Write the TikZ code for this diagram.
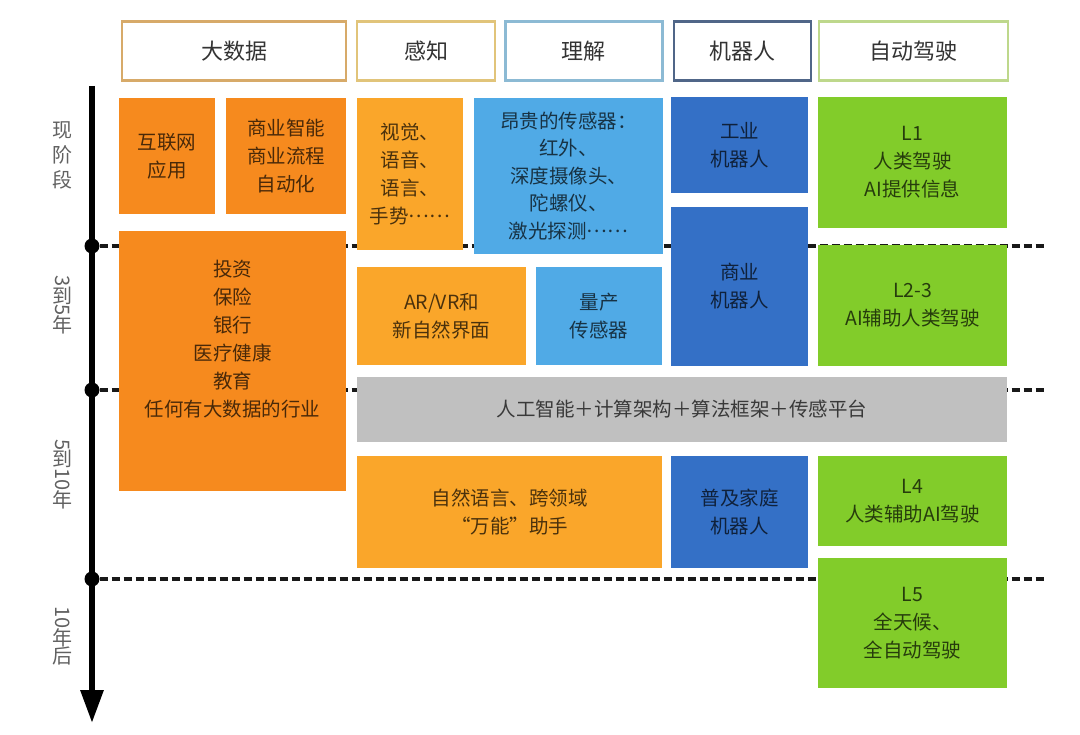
\documentclass[tikz,border=0pt]{standalone}
\usepackage{fontspec}
\setmainfont{Noto Sans CJK SC}
\usepackage{tikz}
\usetikzlibrary{arrows.meta, positioning}
\usepackage{xcolor}
\usepackage{graphicx}
\definecolor{dataOrange}{RGB}{246,138,30}
\definecolor{senseOrange}{RGB}{250,166,42}
\definecolor{skyBlue}{RGB}{80,170,230}
\definecolor{robotBlue}{RGB}{52,112,198}
\definecolor{driveGreen}{RGB}{130,204,42}
\definecolor{platformGray}{RGB}{192,192,192}
\definecolor{tanLine}{RGB}{215,170,105}
\definecolor{sandLine}{RGB}{225,196,122}
\definecolor{paleBlueLine}{RGB}{140,186,212}
\definecolor{slateLine}{RGB}{80,102,136}
\definecolor{oliveLine}{RGB}{190,216,140}
\newcommand{\vup}[1]{\raisebox{-0.15em}{\rotatebox{90}{#1}}}
\newcommand{\middots}{\raisebox{0.3em}{……}}

\begin{document}
\begin{tikzpicture}[
    x=1pt, y=-1pt,
    head/.style={rectangle, draw, line width=2.2pt, fill=white, minimum height=59pt, font=\fontsize{22}{26}\selectfont, text=black!80},
    block/.style={rectangle, anchor=north west, inner sep=0pt, outer sep=0pt, align=center, font=\fontsize{19.5}{28}\selectfont, text=black, text opacity=0.7},
    period/.style={font=\fontsize{20}{25}\selectfont, text=black!62, align=center},
    axis/.style={line width=6pt, -{Triangle[length=33pt, width=22pt]}},
    dot/.style={circle, fill=black, minimum size=15pt, inner sep=0pt},
    dashline/.style={line width=4pt, dash pattern=on 8pt off 4pt, black!90}
]
\useasboundingbox (0,0) rectangle (1080,735);

% Timeline
\coordinate (axistop) at (92,86);
\coordinate (axisend) at (92,723);
\draw[axis] (axistop) -- (axisend);
\node[dot] (now) at (92,246) {};
\node[dot] (mid) at (92,390) {};
\node[dot] (far) at (92,579) {};
\coordinate (nowend) at (1045,246);
\coordinate (midend) at (1045,390);
\coordinate (farend) at (1045,579);
\draw[dashline] (now) -- (nowend);
\draw[dashline] (mid) -- (midend);
\draw[dashline] (far) -- (farend);

\node[period] (pnow) at (62,155) {现\\阶\\段};
\node[period] (pnear) at (62,305) {\rotatebox{-90}{3\vup{到}5\vup{年}}};
\node[period] (pmid) at (62,474) {\rotatebox{-90}{5\vup{到}10\vup{年}}};
\node[period] (pfar) at (62,636) {\rotatebox{-90}{10\vup{年}\vup{后}}};

% Headers
\node[head, draw=tanLine, minimum width=224pt] (hdata) at (234,51) {大数据};
\node[head, draw=sandLine, minimum width=138pt, right=9pt of hdata] (hsense) {感知};
\node[head, draw=paleBlueLine, minimum width=157pt, right=8pt of hsense] (hgrasp) {理解};
\node[head, draw=slateLine, minimum width=137pt, right=9pt of hgrasp] (hrobot) {机器人};
\node[head, draw=oliveLine, minimum width=189pt, right=6pt of hrobot] (hdrive) {自动驾驶};

% Big data
\node[block, fill=dataOrange, minimum width=96pt, minimum height=116pt] (internet) at (119,98) {互联网\\应用};
\node[block, fill=dataOrange, minimum width=120pt, minimum height=116pt] (bizintel) at (226,98) {商业智能\\商业流程\\自动化};
\node[block, fill=dataOrange, minimum width=227pt, minimum height=260pt] (invest) at (119,231) {投资\\保险\\银行\\医疗健康\\教育\\任何有大数据的行业\\[18pt]\mbox{}};

% Perception and understanding
\node[block, fill=senseOrange, minimum width=106pt, minimum height=152pt] (senses) at (357,98) {视觉、\\语音、\\语言、\\手势\middots};
\node[block, fill=skyBlue, minimum width=189pt, minimum height=156pt, font=\fontsize{19.5}{27.5}\selectfont] (sensors) at (474,98) {昂贵的传感器：\\红外、\\深度摄像头、\\陀螺仪、\\激光探测\middots};
\node[block, fill=senseOrange, minimum width=169pt, minimum height=98pt] (arvr) at (357,267) {AR/VR和\\新自然界面};
\node[block, fill=skyBlue, minimum width=126pt, minimum height=98pt] (massprod) at (536,267) {量产\\传感器};
\node[block, fill=senseOrange, minimum width=305pt, minimum height=112pt] (assistant) at (357,456) {自然语言、跨领域\\“万能”助手};

% Robots
\node[block, fill=robotBlue, minimum width=137pt, minimum height=96pt] (industrial) at (671,97) {工业\\机器人};
\node[block, fill=robotBlue, minimum width=137pt, minimum height=159pt] (commercial) at (671,207) {商业\\机器人};
\node[block, fill=robotBlue, minimum width=137pt, minimum height=112pt] (homebot) at (671,456) {普及家庭\\机器人};

% Autonomous driving
\node[block, fill=driveGreen, minimum width=189pt, minimum height=131pt] (levelone) at (818,97) {L1\\人类驾驶\\AI提供信息};
\node[block, fill=driveGreen, minimum width=189pt, minimum height=121pt] (leveltwo) at (818,245) {L2-3\\AI辅助人类驾驶};
\node[block, fill=driveGreen, minimum width=189pt, minimum height=90pt] (levelfour) at (818,456) {L4\\人类辅助AI驾驶};
\node[block, fill=driveGreen, minimum width=189pt, minimum height=130pt] (levelfive) at (818,558) {L5\\全天候、\\全自动驾驶};

% Platform
\node[block, fill=platformGray, minimum width=650pt, minimum height=65pt] (platform) at (357,377) {人工智能＋计算架构＋算法框架＋传感平台};

\end{tikzpicture}
\end{document}
